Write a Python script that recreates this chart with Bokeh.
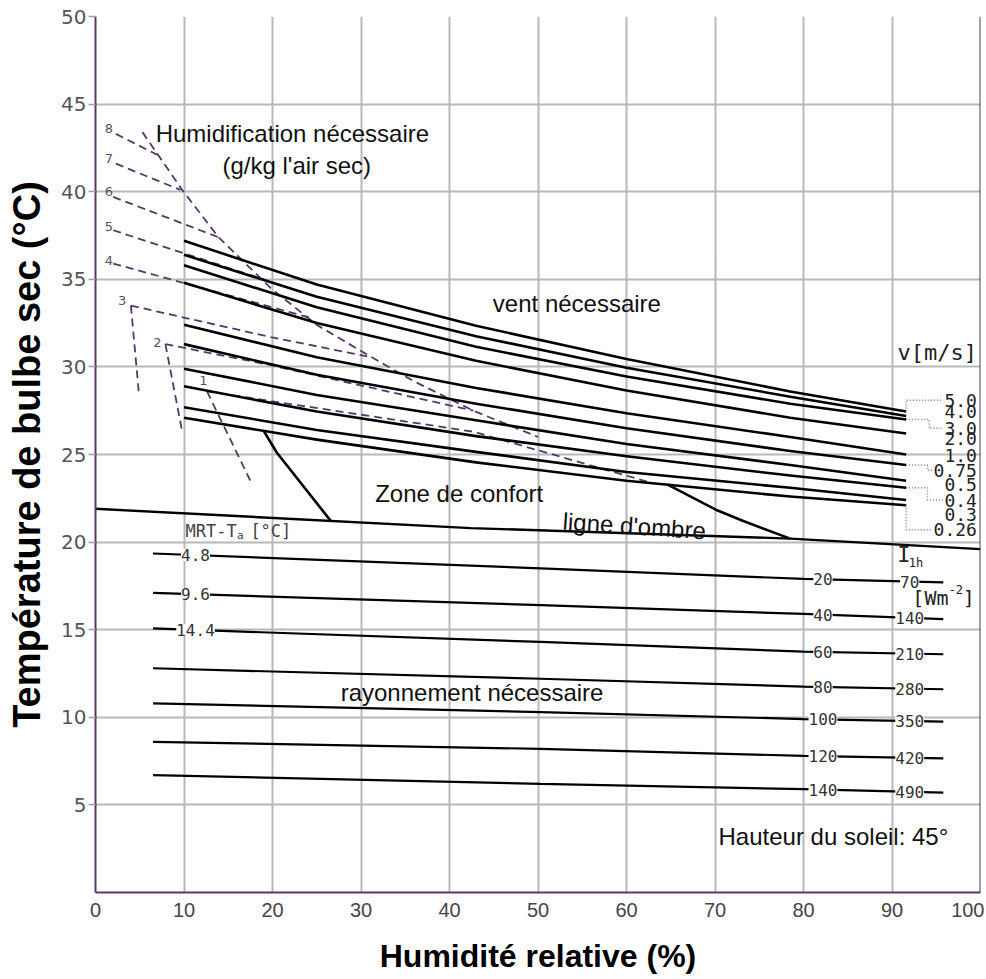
import numpy as np
from bokeh.plotting import figure
from bokeh.models import ColumnDataSource, LabelSet, Span
from bokeh.core.properties import value
from bokeh.embed import file_html
from bokeh.resources import INLINE

# ---------------- data ----------------
x_ticks = [0, 10, 20, 30, 40, 50, 60, 70, 80, 90, 100]
y_ticks = [5, 10, 15, 20, 25, 30, 35, 40, 45, 50]

# wind lines (v [m/s])
rh_wind = [10, 25, 43, 60, 78.5, 91.6]
t_v5_0 = [37.2, 34.7, 32.35, 30.45, 28.6, 27.45]
t_v4_0 = [36.4, 34.0, 31.75, 29.95, 28.3, 27.2]
t_v3_0 = [35.8, 33.4, 31.15, 29.45, 27.9, 27.0]
t_v2_0 = [34.8, 32.5, 30.35, 28.65, 27.1, 26.2]
t_v1_0 = [32.4, 30.55, 28.8, 27.35, 26.0, 25.0]
t_v0_75 = [31.3, 29.55, 27.9, 26.5, 25.2, 24.4]
t_v0_5 = [29.9, 28.4, 26.95, 25.6, 24.4, 23.5]
t_v0_4 = [28.9, 27.45, 26.05, 24.9, 23.8, 23.1]
t_v0_3 = [27.7, 26.4, 25.15, 24.0, 23.1, 22.4]
t_v0_26 = [27.1, 25.85, 24.55, 23.5, 22.6, 22.1]
wind_labels = ["5.0", "4.0", "3.0", "2.0", "1.0", "0.75", "0.5", "0.4", "0.3", "0.26"]
wind_label_T = [28.1, 27.45, 26.5, 25.9, 24.95, 24.1, 23.3, 22.4, 21.6, 20.7]
bracket_idx = [0, 2, 5, 7, 9]
bracket_step_x = [91.6, 94.2, 94.0, 94.0, 91.6]

# shade line
rh_shade = [0, 42.4, 78.5, 100]
t_shade = [21.9, 20.8, 20.2, 19.6]

# comfort zone boundaries
rh_comfort_left = [19.0, 20.5, 26.6]
t_comfort_left = [26.35, 25.1, 21.2]
rh_comfort_right = [64.6, 70.3, 73.2, 78.5]
t_comfort_right = [23.3, 21.8, 21.2, 20.2]

# humidification lines (g/kg)
hum_labels = ["8", "7", "6", "5", "4", "3", "2", "1"]
hum_label_x = [1.5, 1.5, 1.5, 1.5, 1.5, 3.0, 7.0, 12.2]
hum_label_T = [43.6, 41.9, 40.0, 38.0, 36.1, 33.8, 31.4, 29.2]
rh_h8, t_h8 = [2.3, 7.0], [43.3, 42.1]
rh_h7, t_h7 = [2.3, 9.6], [41.6, 40.1]
rh_h6, t_h6 = [2.0, 13.9], [39.7, 37.4]
rh_h5, t_h5 = [2.0, 19.0], [37.8, 35.0]
rh_h4, t_h4 = [2.0, 24.3], [35.9, 32.8]
rh_h3, t_h3 = [4.0, 19.8, 30.7], [33.5, 31.7, 30.6]
rh_h3v, t_h3v = [4.0, 4.9], [33.5, 28.5]
rh_h2, t_h2 = [7.9, 19.8, 42.7], [31.3, 30.1, 27.5]
rh_h2v, t_h2v = [7.9, 9.8], [31.3, 26.3]
rh_h1, t_h1 = [12.6, 42.7, 62.7], [28.6, 26.3, 23.4]
rh_h1v, t_h1v = [12.6, 17.5], [28.6, 23.5]
rh_diag = [5.3, 9.8, 13.9, 19.8, 25.0, 30.7, 35.9, 42.7, 50.0]
t_diag = [43.4, 40.1, 37.4, 34.5, 32.4, 30.7, 29.2, 27.5, 26.0]

# radiation lines
rh_rad = [6.5, 50.3, 80.0, 95.8]
t_r1 = [19.35, 18.5, 17.9, 17.7]
t_r2 = [17.1, 16.4, 15.9, 15.6]
t_r3 = [15.07, 14.3, 13.75, 13.6]
t_r4 = [12.8, 12.2, 11.75, 11.6]
t_r5 = [10.8, 10.3, 9.9, 9.75]
t_r6 = [8.6, 8.2, 7.8, 7.65]
t_r7 = [6.7, 6.2, 5.9, 5.7]
mrt_labels = ["4.8", "9.6", "14.4"]
irr_labels_a = ["20", "40", "60", "80", "100", "120", "140"]
irr_labels_b = ["70", "140", "210", "280", "350", "420", "490"]

# ---------------- styles ----------------
PURPLE = "#563868"
DOT_PURPLE = "#9a6aa8"
GRID = "#b8b8b8"
SANS = "Liberation Sans"
MONO = "DejaVu Sans Mono"

p = figure(width=984, height=979, x_range=(0, 100), y_range=(0, 50),
           output_backend="svg", toolbar_location=None,
           min_border_left=95, min_border_right=4, min_border_top=16,
           min_border_bottom=87, background_fill_color="white",
           border_fill_color="white")
p.outline_line_color = None

p.xaxis.ticker = x_ticks
p.yaxis.ticker = y_ticks
p.xgrid.grid_line_color = GRID
p.ygrid.grid_line_color = GRID
p.xgrid.grid_line_width = 2
p.ygrid.grid_line_width = 2

for ax in (p.xaxis, p.yaxis):
    ax.axis_line_color = PURPLE
    ax.axis_line_width = 2
    ax.minor_tick_line_color = None
    ax.axis_label_text_font = SANS
    ax.axis_label_text_font_style = "bold"
    ax.axis_label_text_color = "black"

p.yaxis.major_tick_out = 7
p.yaxis.major_tick_in = 0
p.yaxis.major_tick_line_color = "#a0a0a0"
p.yaxis.major_tick_line_width = 1.5
p.yaxis.major_label_standoff = 2
p.yaxis.major_label_text_font = "DejaVu Sans"
p.yaxis.major_label_text_font_size = "20px"
p.yaxis.major_label_text_color = "#555555"
p.yaxis.axis_label = "Température de bulbe sec (°C)"
p.yaxis.axis_label_text_font_size = "38px"
p.yaxis.axis_label_standoff = 10

p.xaxis.major_tick_out = 0
p.xaxis.major_tick_in = 0
p.xaxis.major_label_standoff = 10
p.xaxis.major_label_text_font = "Liberation Sans"
p.xaxis.major_label_text_font_size = "20px"
p.xaxis.major_label_text_color = "#454545"
p.xaxis.axis_label = "Humidité relative (%)"
p.xaxis.axis_label_text_font_size = "32px"
p.xaxis.axis_label_standoff = 18

p.add_layout(Span(location=100, dimension="height", line_color=PURPLE, line_width=2))

# humidification dashed lines
hum_xs = [rh_h8, rh_h7, rh_h6, rh_h5, rh_h4, rh_h3, rh_h3v, rh_h2, rh_h2v, rh_h1, rh_h1v, rh_diag]
hum_ys = [t_h8, t_h7, t_h6, t_h5, t_h4, t_h3, t_h3v, t_h2, t_h2v, t_h1, t_h1v, t_diag]
p.multi_line(xs=hum_xs, ys=hum_ys, line_color=PURPLE, line_width=1.8, line_dash="8 5")
p.text(x=hum_label_x, y=hum_label_T, text=hum_labels, text_font=value("DejaVu Sans"),
       text_font_size="13px", text_color="#555555", text_align="center", text_baseline="middle")

# wind lines
wind_T = [t_v5_0, t_v4_0, t_v3_0, t_v2_0, t_v1_0, t_v0_75, t_v0_5, t_v0_4, t_v0_3, t_v0_26]
p.multi_line(xs=[rh_wind] * len(wind_T), ys=wind_T, line_color="black", line_width=2.6,
             line_join="round")

# bracket connectors to wind labels
label_right_x = 99.6
char_w = 10.8 / 8.85
br_xs, br_ys = [], []
for i, sx in zip(bracket_idx, bracket_step_x):
    x_end, t_end = rh_wind[-1], wind_T[i][-1]
    left = label_right_x - len(wind_labels[i]) * char_w - 0.2
    br_xs.append([x_end, sx, sx, left])
    br_ys.append([t_end, t_end, wind_label_T[i], wind_label_T[i]])
p.multi_line(xs=br_xs, ys=br_ys, line_color=DOT_PURPLE, line_width=1.5, line_dash="1 2")
p.text(x=[label_right_x] * len(wind_labels), y=wind_label_T, text=wind_labels,
       text_font=value(MONO), text_font_size="18px", text_color="#222222",
       text_align="right", text_baseline="middle")
p.text(x=[label_right_x], y=[30.8], text=["v[m/s]"], text_font=value(MONO),
       text_font_size="22px", text_color="#222222", text_align="right", text_baseline="middle")

# shade line and comfort zone
p.line(rh_shade, t_shade, line_color="black", line_width=2.4)
p.line(rh_comfort_left, t_comfort_left, line_color="black", line_width=2.6)
p.line(rh_comfort_right, t_comfort_right, line_color="black", line_width=2.6)

# radiation lines
rad_T = [t_r1, t_r2, t_r3, t_r4, t_r5, t_r6, t_r7]
p.multi_line(xs=[rh_rad] * len(rad_T), ys=rad_T, line_color="black", line_width=2.2)

lab_x, lab_y, lab_t = [], [], []
for i, t in enumerate(mrt_labels):
    lab_x.append(11.3); lab_y.append(float(np.interp(11.3, rh_rad, rad_T[i]))); lab_t.append(t)
for i, t in enumerate(irr_labels_a):
    lab_x.append(82.2); lab_y.append(float(np.interp(82.2, rh_rad, rad_T[i]))); lab_t.append(t)
for i, t in enumerate(irr_labels_b):
    lab_x.append(92.0); lab_y.append(float(np.interp(92.0, rh_rad, rad_T[i]))); lab_t.append(t)
rad_src = ColumnDataSource(dict(x=lab_x, y=lab_y, text=lab_t))
p.add_layout(LabelSet(x="x", y="y", text="text", source=rad_src, text_align="center",
                      text_baseline="middle", text_font=value(MONO), text_font_size="16px",
                      text_color="#333333", background_fill_color="white"))

# unit annotations
p.text(x=[10.17], y=[20.66], text=["MRT-T"], text_font=value(MONO), text_font_size="17px",
       text_color="#444444", text_baseline="middle")
p.text(x=[16.0], y=[20.35], text=["a"], text_font=value(MONO), text_font_size="11px",
       text_color="#444444", text_baseline="middle")
p.text(x=[17.5], y=[20.66], text=["[°C]"], text_font=value(MONO), text_font_size="17px",
       text_color="#444444", text_baseline="middle")
p.text(x=[90.6], y=[19.3], text=["I"], text_font=value(MONO), text_font_size="22px",
       text_color="#222222", text_baseline="middle")
p.text(x=[91.9], y=[18.8], text=["1h"], text_font=value(MONO), text_font_size="12px",
       text_color="#222222", text_baseline="middle")
p.text(x=[92.3], y=[16.8], text=["[Wm"], text_font=value(MONO), text_font_size="20px",
       text_color="#222222", text_baseline="middle")
p.text(x=[96.4], y=[17.3], text=["-2"], text_font=value(MONO), text_font_size="12px",
       text_color="#222222", text_baseline="middle")
p.text(x=[98.0], y=[16.8], text=["]"], text_font=value(MONO), text_font_size="20px",
       text_color="#222222", text_baseline="middle")

# region annotations
ann_x = [6.8, 14.35, 44.9, 31.6, 27.7, 70.4]
ann_y = [43.3, 41.5, 33.6, 22.8, 11.4, 3.2]
ann_t = ["Humidification nécessaire", "(g/kg l'air sec)", "vent nécessaire",
         "Zone de confort", "rayonnement nécessaire", "Hauteur du soleil: 45°"]
p.text(x=ann_x, y=ann_y, text=ann_t, text_font=value(SANS), text_font_size="24px",
       text_color="#111111", text_baseline="middle", text_align="left")
p.text(x=[52.8], y=[21.2], text=["ligne d'ombre"], angle=-0.068, text_font=value(SANS),
       text_font_size="24px", text_color="#111111", text_baseline="middle", text_align="left")

open("out.html", "w").write(file_html(p, INLINE))
